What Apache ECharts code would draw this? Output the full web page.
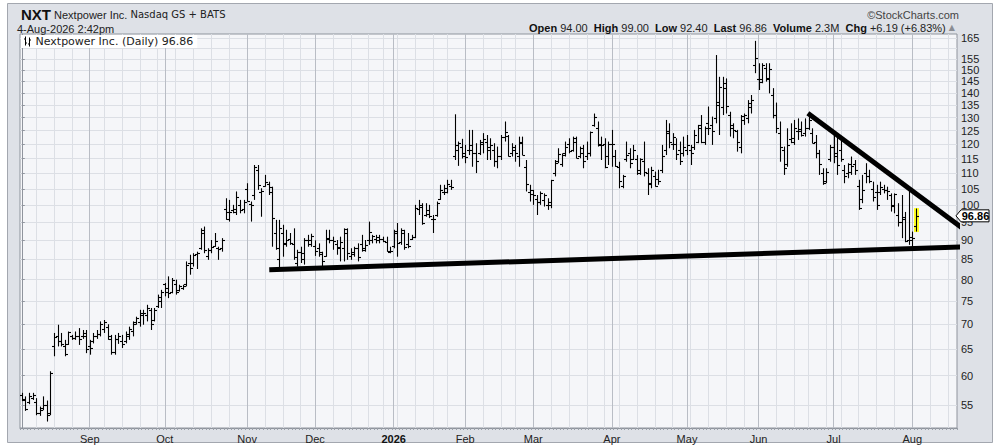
<!DOCTYPE html>
<html><head><meta charset="utf-8">
<script src="https://cdn.jsdelivr.net/npm/echarts@6/dist/echarts.min.js"></script>
<style>html,body{margin:0;padding:0;background:#fff;}#c{width:997px;height:446px;}</style>
</head><body><div id="c"></div>
<script>
// ---------- data ----------
const symbol = 'NXT';
const companyName = 'Nextpower Inc.';
const exchange = 'Nasdaq GS + BATS';
const asOf = '4-Aug-2026 2:42pm';
const volumeText = '2.3M';
const firstDate = '2025-08-05';
const futureSlots = 11;
const holidays = ['2025-09-01','2025-11-27','2025-12-25','2026-01-01','2026-01-19','2026-02-16','2026-04-03','2026-05-25','2026-06-19','2026-07-03'];
const monthNames = ['Jan','Feb','Mar','Apr','May','Jun','Jul','Aug','Sep','Oct','Nov','Dec'];
const yTicks = [55,60,65,70,75,80,85,90,95,100,105,110,115,120,125,130,135,140,145,150,155,160,165];

const opens = [56.6,55.8,55.5,56.2,55.5,53.6,54.5,55.0,53.6,65.5,67.5,66.5,65.5,66.0,67.5,67.2,67.5,67.5,67.5,
65.5,66.5,67.5,68.0,69.0,69.5,67.0,64.5,67.0,66.5,66.5,67.5,68.5,70.5,70.5,72.0,72.0,73.0,71.0,74.0,75.0,
79.0,78.0,77.0,79.0,77.5,78.0,79.0,84.0,84.0,86.5,88.0,92.0,86.0,87.5,88.5,88.0,88.0,99.0,96.0,98.5,
98.0,100.0,99.0,105.0,100.5,103.0,111.0,104.0,106.0,106.5,104.0,92.0,85.0,92.0,89.0,90.5,89.0,84.0,87.0,85.0,
90.0,89.0,88.5,88.0,86.8,86.0,90.5,90.0,89.0,88.0,88.0,92.0,86.0,86.5,88.0,89.0,88.0,90.0,90.0,90.5,
90.0,90.5,89.5,87.0,88.5,92.0,89.5,92.0,89.0,90.5,91.0,99.0,99.5,97.0,97.5,96.0,97.0,102.0,104.0,104.0,
106.0,116.0,118.0,119.0,116.0,118.0,118.0,117.0,117.0,120.0,121.0,119.0,118.0,114.0,116.0,122.5,123.0,117.0,118.0,116.0,
121.0,112.0,104.0,103.5,102.0,101.0,101.5,100.0,100.0,110.0,114.0,113.0,117.0,120.0,118.0,121.0,116.0,117.0,116.0,117.0,
127.0,126.0,120.0,120.0,116.0,120.0,116.0,112.0,106.0,115.0,117.0,115.0,115.0,110.0,114.0,110.0,107.0,109.0,108.0,111.0,
118.0,125.0,120.0,120.0,118.0,117.0,118.0,118.0,119.0,121.0,127.0,121.0,128.0,127.0,130.0,135.0,134.0,142.0,131.0,126.0,
125.0,119.0,129.0,130.0,134.0,152.0,146.0,146.0,151.0,146.0,139.0,131.0,124.0,118.0,113.0,122.0,121.0,125.0,125.0,124.0,
126.0,124.0,121.0,117.0,110.0,107.5,115.0,119.0,116.0,118.0,111.0,110.0,113.0,113.0,106.0,102.0,110.0,109.0,105.0,104.0,
104.0,105.0,104.7,103.0,100.0,97.0,95.0,96.0,90.0,91.0,94.0];
const highs = [57.0,56.4,57.0,57.0,56.1,54.7,56.4,55.7,60.8,68.2,69.9,68.2,66.8,68.5,67.8,68.5,69.2,68.8,68.8,
66.8,68.2,68.8,70.6,70.9,70.0,67.8,67.8,68.2,67.8,68.5,69.5,70.6,71.6,73.1,73.1,74.2,73.5,73.5,76.5,77.6,
79.2,80.8,80.4,80.0,78.8,78.8,84.5,86.2,86.6,87.0,93.3,93.8,87.9,90.1,92.0,88.3,90.6,102.1,101.6,100.1,
104.2,101.6,101.6,106.8,101.1,112.8,112.8,105.2,109.5,107.3,105.7,95.7,95.7,94.3,92.9,92.0,93.3,87.5,88.3,90.6,
91.5,91.8,90.0,89.2,87.0,92.9,92.9,91.0,90.1,91.0,93.3,93.3,87.9,88.3,89.2,91.5,90.1,95.2,91.5,91.5,
91.5,91.0,91.0,88.3,92.9,94.8,93.3,92.9,92.0,91.5,100.1,101.6,100.6,100.6,100.1,97.1,101.1,106.3,106.3,107.9,
107.9,131.3,121.0,122.0,119.8,125.3,125.3,120.4,121.6,124.1,123.4,122.2,120.4,119.2,123.4,128.5,123.4,120.4,119.8,122.8,
122.8,114.5,106.3,104.7,103.1,104.2,103.6,102.1,107.9,114.5,118.6,116.8,121.0,122.2,122.8,122.8,119.2,119.8,121.0,124.7,
131.6,128.5,122.8,122.2,121.0,125.3,118.0,113.9,109.5,121.0,118.6,119.8,116.2,115.1,121.0,111.7,112.2,110.6,111.2,119.8,
129.1,127.8,124.1,122.2,121.0,122.8,123.4,119.8,125.3,127.2,131.0,126.6,134.4,130.4,156.8,146.9,146.9,146.2,132.3,127.8,
125.3,131.0,131.6,137.0,139.1,163.6,153.0,153.0,153.0,153.0,142.0,136.0,128.5,119.2,125.9,127.8,129.1,129.7,128.5,129.7,
130.4,125.9,123.4,118.0,111.7,111.7,119.8,123.4,122.8,122.2,112.8,113.4,115.7,114.5,107.9,109.5,113.4,111.2,107.3,106.3,
107.3,106.3,105.7,103.6,103.6,100.6,103.1,98.0,104.7,92.4,99.0];
const lows = [55.6,54.0,55.1,55.8,53.3,53.2,54.1,52.3,53.3,63.6,65.5,65.5,63.6,65.8,66.8,66.8,65.8,67.0,64.2,
63.9,66.1,67.0,67.5,68.2,66.8,63.9,63.9,66.0,65.2,66.1,66.8,67.5,69.9,69.5,69.9,70.6,68.8,70.6,73.5,73.5,
76.1,75.7,76.8,76.5,77.2,77.6,78.4,81.2,83.2,82.6,87.5,86.6,84.9,86.6,88.3,84.9,87.0,95.7,95.2,97.6,
97.1,97.6,97.6,101.1,95.2,101.6,104.7,96.6,105.7,103.1,88.3,87.5,82.4,85.7,88.3,88.8,84.9,83.2,84.1,83.7,
88.3,88.3,85.9,85.7,83.2,85.7,89.2,87.5,86.2,84.5,84.5,84.9,84.9,85.7,84.5,87.0,87.0,88.8,89.2,89.2,
89.2,89.5,87.0,86.6,87.9,85.7,88.8,87.5,87.9,90.1,90.6,97.1,94.3,96.6,96.2,92.0,96.6,101.6,103.1,103.6,
104.7,114.5,112.5,115.0,113.4,116.2,112.2,110.1,116.2,116.8,114.5,114.5,112.2,111.7,114.5,121.0,115.7,115.7,113.9,112.2,
116.2,104.2,101.1,100.1,97.1,100.1,99.6,98.6,99.1,109.0,113.4,112.2,115.7,116.8,117.4,115.1,115.1,111.7,114.5,115.7,
126.5,119.2,114.5,111.7,112.8,112.2,112.2,105.2,105.2,113.9,111.7,114.5,109.5,109.5,109.0,103.1,105.2,105.7,106.3,110.1,
116.2,118.6,118.0,114.5,112.8,115.7,116.2,112.8,118.0,120.4,120.4,119.8,123.4,119.8,127.8,123.4,131.0,131.6,122.8,122.2,
117.4,116.8,127.2,127.8,131.6,148.5,141.2,144.1,144.8,139.8,129.7,124.1,113.9,109.5,112.2,120.4,119.8,121.6,122.8,122.8,
125.3,120.4,115.1,109.5,106.3,106.8,113.9,113.4,109.5,113.9,106.8,108.4,109.5,109.5,98.6,100.6,106.8,106.8,101.1,98.6,
103.1,103.6,101.6,98.1,97.6,93.8,90.6,89.5,88.8,88.0,92.4];
const closes = [55.9,54.3,56.4,56.6,53.6,54.2,55.0,53.3,60.5,67.3,66.5,65.9,64.0,68.3,67.2,67.6,67.0,68.2,65.0,
65.2,67.5,68.0,70.0,70.5,67.5,64.5,67.0,67.5,66.0,68.0,69.0,70.0,71.3,72.5,72.5,73.5,70.0,73.0,76.0,77.0,
77.0,76.8,80.0,77.2,78.4,78.6,83.7,82.8,86.2,86.6,92.9,87.5,87.5,88.3,89.7,87.7,90.1,98.1,98.1,99.0,
102.6,98.6,101.1,101.3,100.1,112.2,106.3,104.2,107.3,105.7,96.2,87.9,93.3,89.2,90.1,89.2,85.7,87.0,86.6,90.1,
90.1,91.2,87.2,86.4,84.5,90.6,90.1,89.7,88.3,89.5,93.0,86.6,87.0,87.9,85.7,87.5,88.8,92.4,91.2,91.0,
90.5,89.8,87.2,87.2,92.6,89.2,92.9,88.3,88.6,91.0,99.1,100.1,94.8,98.6,96.8,96.0,100.6,104.7,105.2,106.6,
105.7,119.8,120.5,117.0,115.7,119.8,116.8,114.0,121.0,122.0,118.0,119.8,114.0,116.0,122.8,124.5,116.0,119.2,116.8,120.4,
116.2,106.5,104.7,103.2,101.1,103.6,103.1,101.1,107.9,113.4,116.5,116.2,119.2,117.6,122.2,115.3,118.6,114.0,116.8,124.5,
130.2,119.8,119.8,112.2,120.0,120.0,112.5,107.6,109.0,116.2,113.4,118.0,111.2,114.8,110.3,106.5,111.2,106.0,107.6,116.0,
124.1,121.0,122.5,116.5,114.2,119.0,119.8,116.8,123.4,125.9,120.8,125.9,125.9,125.0,136.4,142.6,144.1,134.8,127.2,125.3,
120.8,130.6,131.0,135.7,137.0,155.5,144.8,152.2,146.2,150.6,131.0,125.9,119.2,111.7,119.8,122.2,125.9,125.6,123.4,125.9,
129.1,120.6,116.8,113.2,106.8,110.6,119.2,116.8,112.8,114.8,109.0,110.3,112.5,111.2,99.1,104.5,109.2,107.6,102.6,100.1,
105.7,104.7,104.2,99.8,103.3,95.0,96.6,89.7,90.1,90.67,96.86];

// hand-drawn trendlines: [bar slot, price]
const supportLine = [[69.2, 82.4], [264.3, 88.3]];
const resistanceLine = [[219.8, 131.7], [265.7, 91.4]];

// ---------- build ----------
function tradingDays(start, count) {
  const out = [];
  const d = new Date(start + 'T00:00:00Z');
  while (out.length < count) {
    const dow = d.getUTCDay();
    const s = d.toISOString().slice(0, 10);
    if (dow !== 0 && dow !== 6 && holidays.indexOf(s) < 0) out.push(s);
    d.setUTCDate(d.getUTCDate() + 1);
  }
  return out;
}
const nBars = closes.length;
const N = nBars + futureSlots;
const dates = tradingDays(firstDate, N);
const monthStart = {}, weekStart = {};
for (let k = 1; k < N; k++) {
  const a = new Date(dates[k - 1] + 'T00:00:00Z'), b = new Date(dates[k] + 'T00:00:00Z');
  if (a.getUTCMonth() !== b.getUTCMonth()) monthStart[k] = true;
  if (b.getUTCDay() < a.getUTCDay() || (b - a) > 4 * 86400000) weekStart[k] = true;
}
const ohlc = closes.map((c, k) => [k, opens[k], highs[k], lows[k], c]);
const last = nBars - 1;
const prevClose = closes[last - 1];
const chg = closes[last] - prevClose;
const chgPct = chg / prevClose * 100;
const seriesName = companyName + ' (Daily) ' + closes[last].toFixed(2);

function renderOHLC(params, api) {
  const k = api.value(0);
  const pH = api.coord([k, api.value(2)]);
  const pL = api.coord([k, api.value(3)]);
  const pO = api.coord([k, api.value(1)]);
  const pC = api.coord([k, api.value(4)]);
  const x = Math.round(pH[0]) + 0.5;
  const yo = Math.round(pO[1]) + 0.5, yc = Math.round(pC[1]) + 0.5;
  const kids = [];
  if (params.dataIndex === last) {
    kids.push({ type: 'rect', shape: { x: x - 2.5, y: pH[1] - 0.5, width: 5, height: pL[1] - pH[1] + 1 }, style: { fill: '#ffff22' } });
  }
  const st = { stroke: '#000', lineWidth: 1.1 };
  kids.push({ type: 'line', shape: { x1: x, y1: pH[1], x2: x, y2: pL[1] }, style: st });
  kids.push({ type: 'line', shape: { x1: x - 2.5, y1: yo, x2: x, y2: yo }, style: st });
  kids.push({ type: 'line', shape: { x1: x, y1: yc, x2: x + 2.5, y2: yc }, style: st });
  return { type: 'group', children: kids };
}

function renderPriceTag(params, api) {
  const cs = params.coordSys;
  const y = api.coord([0, api.value(1)])[1];
  const x0 = cs.x + cs.width - 1;
  return {
    type: 'group', children: [
      { type: 'polygon', shape: { points: [[x0, y], [x0 + 5, y - 6], [x0 + 33, y - 6], [x0 + 33, y + 6], [x0 + 5, y + 6]] },
        style: { fill: '#ffffff', stroke: '#000', lineWidth: 1 } },
      { type: 'text', x: x0 + 19.5, y: y + 0.5,
        style: { text: api.value(1).toFixed(2), fill: '#000', font: 'bold 11px "Liberation Sans", Arial, sans-serif', align: 'center', verticalAlign: 'middle' } }
    ]
  };
}

const fontSans = '"Liberation Sans", Arial, sans-serif';
const baseTitle = { fontFamily: fontSans, fontSize: 11, fontWeight: 'normal', color: '#222' };
const chart = echarts.init(document.getElementById('c'), null, { renderer: 'svg', width: 997, height: 446 });
chart.setOption({
  animation: false,
  graphic: [{ type: 'rect', z: -100, silent: true, shape: { x: 7.5, y: 3.5, width: 985, height: 439 },
              style: { fill: '#dee1e7', stroke: '#a3a7af', lineWidth: 1 } }],
  title: [
    { left: 21, top: 7, padding: 0,
      text: '{s|' + symbol + '} {n|' + companyName + '} {e|' + exchange + '}',
      textStyle: Object.assign({}, baseTitle, { rich: {
        s: { fontFamily: fontSans, fontWeight: 'bold', fontSize: 15, color: '#111' },
        n: { fontFamily: fontSans, fontSize: 11, color: '#222' },
        e: { fontFamily: '"DejaVu Sans", sans-serif', fontSize: 10, color: '#222' } } }) },
    { left: 17, top: 23, padding: 0, text: asOf, textStyle: baseTitle },
    { right: 38, top: 9, padding: 0, text: '©StockCharts.com',
      textStyle: Object.assign({}, baseTitle, { color: '#444' }) },
    { right: 42, top: 22, padding: 0,
      text: '{b|Open} {v|' + opens[last].toFixed(2) + '}  {b|High} {v|' + highs[last].toFixed(2) + '}  {b|Low} {v|' + lows[last].toFixed(2) +
            '}  {b|Last} {v|' + closes[last].toFixed(2) + '}  {b|Volume} {v|' + volumeText + '}  {b|Chg} {v|' +
            (chg >= 0 ? '+' : '') + chg.toFixed(2) + ' (' + (chg >= 0 ? '+' : '') + chgPct.toFixed(2) + '%)} {u|▲}',
      textStyle: Object.assign({}, baseTitle, { rich: {
        b: { fontFamily: fontSans, fontWeight: 'bold', fontSize: 11, color: '#111' },
        v: { fontFamily: fontSans, fontSize: 11, color: '#222' },
        u: { fontFamily: '"DejaVu Sans", sans-serif', fontSize: 8, color: '#8a8d93' } } }) }
  ],
  legend: {
    left: 21, top: 35, padding: [1, 4, 1, 3], itemGap: 4, itemWidth: 8, itemHeight: 10,
    backgroundColor: '#ffffff', data: [seriesName],
    icon: 'path://M1,0h1v9h-1zM0,2h1v1h-1zM2,6h1v1h-1zM5,1h1v9h-1zM4,7h1v1h-1zM6,3h1v1h-1z',
    textStyle: { fontFamily: '"DejaVu Sans", sans-serif', fontSize: 11, color: '#222', padding: [0, 0, 0, -1] },
    selectedMode: false
  },
  grid: { left: 20, top: 34, right: 40, bottom: 18, show: true, backgroundColor: '#f5f6f9', borderColor: '#8f949d', borderWidth: 1 },
  xAxis: [
    { type: 'category', data: dates, boundaryGap: true,
      axisLine: { show: true, lineStyle: { color: '#8f949d' } },
      axisTick: { show: true, interval: 0, length: 2, lineStyle: { color: '#9aa0a8' } },
      axisLabel: { interval: (i) => !!monthStart[i], margin: 5, color: '#222', fontFamily: fontSans, fontSize: 11,
        formatter: (v) => { const m = +v.slice(5, 7) - 1; return m === 0 ? '{y|' + v.slice(0, 4) + '}' : monthNames[m]; },
        rich: { y: { fontFamily: fontSans, fontWeight: 'bold', fontSize: 11, color: '#111' } } },
      splitLine: { show: true, alignWithLabel: true, interval: (i) => !!weekStart[i], lineStyle: { color: '#dcdfe5', width: 1 } } },
    { type: 'category', data: dates, boundaryGap: true, gridIndex: 0,
      axisLine: { show: false }, axisTick: { show: false }, axisLabel: { show: false },
      splitLine: { show: true, alignWithLabel: true, interval: (i) => !!monthStart[i], lineStyle: { color: '#b9bdc5', width: 1 } } },
    { type: 'value', min: -0.5, max: N - 0.5, show: false, gridIndex: 0 }
  ],
  yAxis: [{
    type: 'log', logBase: 10, min: 51.3, max: 167, position: 'right',
    axisLine: { show: true, lineStyle: { color: '#8f949d' } },
    axisTick: { show: true, length: 3, customValues: yTicks, lineStyle: { color: '#8f949d' } },
    axisLabel: { customValues: yTicks, showMaxLabel: true, showMinLabel: true, margin: 4, color: '#222', fontFamily: fontSans, fontSize: 11 },
    splitLine: { show: true, lineStyle: { color: '#dcdfe5', width: 1 } }
  }],
  series: [
    { name: seriesName, type: 'custom', xAxisIndex: 0, yAxisIndex: 0, data: ohlc, renderItem: renderOHLC,
      itemStyle: { color: '#000' }, encode: { x: 0, y: [1, 2, 3, 4] }, z: 3 },
    { type: 'line', xAxisIndex: 2, yAxisIndex: 0, data: supportLine, symbol: 'none', clip: false, silent: true,
      lineStyle: { color: '#000', width: 5, cap: 'butt' }, z: 5 },
    { type: 'line', xAxisIndex: 2, yAxisIndex: 0, data: resistanceLine, symbol: 'none', clip: false, silent: true,
      lineStyle: { color: '#000', width: 5, cap: 'butt' }, z: 5 },
    { type: 'custom', xAxisIndex: 0, yAxisIndex: 0, data: [[last, closes[last]]], renderItem: renderPriceTag,
      clip: false, silent: true, encode: { x: 0, y: 1 }, z: 10 }
  ]
});
</script></body></html>
